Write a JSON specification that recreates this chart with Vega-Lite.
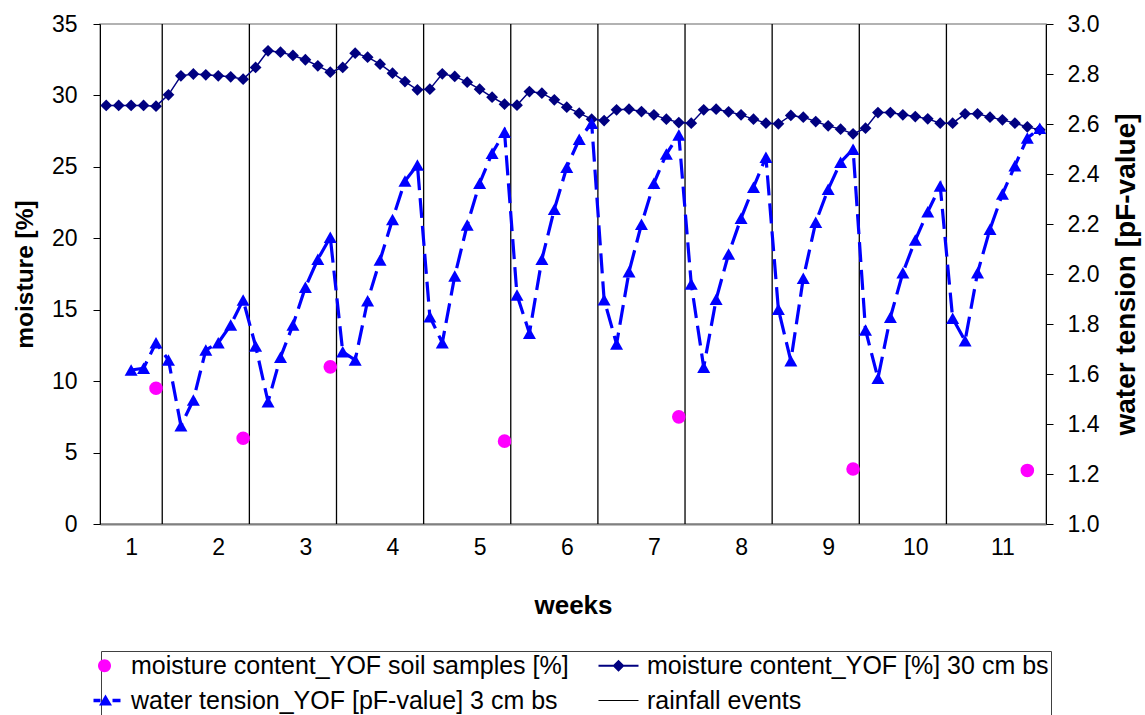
{
  "$schema": "https://vega.github.io/schema/vega-lite/v6.json",
  "width": 946,
  "height": 500,
  "autosize": {"type": "none"},
  "padding": {"left": 100, "top": 24, "right": 99, "bottom": 191},
  "background": "white",
  "config": {
    "font": "Liberation Sans",
    "view": {"stroke": "#999999", "strokeWidth": 1.5},
    "axis": {
      "labelFont": "Liberation Sans",
      "titleFont": "Liberation Sans",
      "labelColor": "black",
      "titleColor": "black",
      "grid": false,
      "labelFontSize": 23,
      "titleFontSize": 24.5,
      "titleFontWeight": "bold",
      "labelFlush": false,
      "labelOverlap": false
    }
  },
  "datasets": {
    "moisture": [
      {"day": 1, "m": 29.3}, {"day": 2, "m": 29.3}, {"day": 3, "m": 29.3}, {"day": 4, "m": 29.3},
      {"day": 5, "m": 29.25}, {"day": 6, "m": 30.04}, {"day": 7, "m": 31.37}, {"day": 8, "m": 31.5},
      {"day": 9, "m": 31.44}, {"day": 10, "m": 31.37}, {"day": 11, "m": 31.3}, {"day": 12, "m": 31.14},
      {"day": 13, "m": 31.96}, {"day": 14, "m": 33.12}, {"day": 15, "m": 33.03}, {"day": 16, "m": 32.8},
      {"day": 17, "m": 32.5}, {"day": 18, "m": 32.07}, {"day": 19, "m": 31.63}, {"day": 20, "m": 31.96},
      {"day": 21, "m": 32.96}, {"day": 22, "m": 32.68}, {"day": 23, "m": 32.19}, {"day": 24, "m": 31.56},
      {"day": 25, "m": 30.97}, {"day": 26, "m": 30.39}, {"day": 27, "m": 30.44}, {"day": 28, "m": 31.51},
      {"day": 29, "m": 31.33}, {"day": 30, "m": 30.93}, {"day": 31, "m": 30.44}, {"day": 32, "m": 29.88},
      {"day": 33, "m": 29.39}, {"day": 34, "m": 29.32}, {"day": 35, "m": 30.27}, {"day": 36, "m": 30.16},
      {"day": 37, "m": 29.69}, {"day": 38, "m": 29.18}, {"day": 39, "m": 28.76}, {"day": 40, "m": 28.34},
      {"day": 41, "m": 28.24}, {"day": 42, "m": 28.99}, {"day": 43, "m": 29.04}, {"day": 44, "m": 28.87},
      {"day": 45, "m": 28.64}, {"day": 46, "m": 28.34}, {"day": 47, "m": 28.1}, {"day": 48, "m": 28.06},
      {"day": 49, "m": 28.99}, {"day": 50, "m": 29.04}, {"day": 51, "m": 28.85}, {"day": 52, "m": 28.64},
      {"day": 53, "m": 28.34}, {"day": 54, "m": 28.06}, {"day": 55, "m": 28.01}, {"day": 56, "m": 28.6},
      {"day": 57, "m": 28.48}, {"day": 58, "m": 28.17}, {"day": 59, "m": 27.87}, {"day": 60, "m": 27.64},
      {"day": 61, "m": 27.31}, {"day": 62, "m": 27.71}, {"day": 63, "m": 28.8}, {"day": 64, "m": 28.8},
      {"day": 65, "m": 28.64}, {"day": 66, "m": 28.52}, {"day": 67, "m": 28.36}, {"day": 68, "m": 28.06},
      {"day": 69, "m": 28.06}, {"day": 70, "m": 28.71}, {"day": 71, "m": 28.71}, {"day": 72, "m": 28.48},
      {"day": 73, "m": 28.29}, {"day": 74, "m": 28.06}, {"day": 75, "m": 27.8}, {"day": 76, "m": 27.59}
    ],
    "tension": [
      {"day": 3, "pf": 1.616}, {"day": 4, "pf": 1.623}, {"day": 5, "pf": 1.725}, {"day": 6, "pf": 1.656},
      {"day": 7, "pf": 1.393}, {"day": 8, "pf": 1.496}, {"day": 9, "pf": 1.696}, {"day": 10, "pf": 1.725},
      {"day": 11, "pf": 1.796}, {"day": 12, "pf": 1.896}, {"day": 13, "pf": 1.712}, {"day": 14, "pf": 1.489},
      {"day": 15, "pf": 1.667}, {"day": 16, "pf": 1.796}, {"day": 17, "pf": 1.947}, {"day": 18, "pf": 2.059},
      {"day": 19, "pf": 2.147}, {"day": 20, "pf": 1.689}, {"day": 21, "pf": 1.656}, {"day": 22, "pf": 1.893},
      {"day": 23, "pf": 2.056}, {"day": 24, "pf": 2.218}, {"day": 25, "pf": 2.372}, {"day": 26, "pf": 2.436},
      {"day": 27, "pf": 1.829}, {"day": 28, "pf": 1.725}, {"day": 29, "pf": 1.992}, {"day": 30, "pf": 2.196},
      {"day": 31, "pf": 2.363}, {"day": 32, "pf": 2.483}, {"day": 33, "pf": 2.567}, {"day": 34, "pf": 1.916},
      {"day": 35, "pf": 1.763}, {"day": 36, "pf": 2.059}, {"day": 37, "pf": 2.259}, {"day": 38, "pf": 2.427},
      {"day": 39, "pf": 2.539}, {"day": 40, "pf": 2.603}, {"day": 41, "pf": 1.897}, {"day": 42, "pf": 1.72},
      {"day": 43, "pf": 2.009}, {"day": 44, "pf": 2.199}, {"day": 45, "pf": 2.363}, {"day": 46, "pf": 2.48},
      {"day": 47, "pf": 2.556}, {"day": 48, "pf": 1.96}, {"day": 49, "pf": 1.627}, {"day": 50, "pf": 1.899},
      {"day": 51, "pf": 2.08}, {"day": 52, "pf": 2.223}, {"day": 53, "pf": 2.347}, {"day": 54, "pf": 2.467},
      {"day": 55, "pf": 1.859}, {"day": 56, "pf": 1.653}, {"day": 57, "pf": 1.983}, {"day": 58, "pf": 2.207},
      {"day": 59, "pf": 2.339}, {"day": 60, "pf": 2.447}, {"day": 61, "pf": 2.499}, {"day": 62, "pf": 1.776},
      {"day": 63, "pf": 1.583}, {"day": 64, "pf": 1.827}, {"day": 65, "pf": 2.005}, {"day": 66, "pf": 2.136},
      {"day": 67, "pf": 2.249}, {"day": 68, "pf": 2.352}, {"day": 69, "pf": 1.823}, {"day": 70, "pf": 1.733},
      {"day": 71, "pf": 2.005}, {"day": 72, "pf": 2.179}, {"day": 73, "pf": 2.32}, {"day": 74, "pf": 2.433},
      {"day": 75, "pf": 2.544}, {"day": 76, "pf": 2.583}
    ],
    "soil": [
      {"day": 5, "m": 9.5}, {"day": 12, "m": 6.0}, {"day": 19, "m": 11.0}, {"day": 33, "m": 5.8},
      {"day": 47, "m": 7.5}, {"day": 61, "m": 3.85}, {"day": 75, "m": 3.75}
    ],
    "rain": [
      {"day": 5.5}, {"day": 12.5}, {"day": 19.5}, {"day": 26.5}, {"day": 33.5},
      {"day": 40.5}, {"day": 47.5}, {"day": 54.5}, {"day": 61.5}, {"day": 68.5}
    ],
    "legend": [
      {"s": "moisture content_YOF soil samples [%]"},
      {"s": "moisture content_YOF [%] 30 cm bs"},
      {"s": "water tension_YOF [pF-value] 3 cm bs"},
      {"s": "rainfall events"}
    ]
  },
  "encoding": {
    "x": {
      "field": "day",
      "type": "quantitative",
      "scale": {"domain": [0.5, 76.5], "nice": false, "zero": false},
      "axis": {
        "title": "weeks",
        "titleFontSize": 26,
        "values": [3, 10, 17, 24, 31, 38, 45, 52, 59, 66, 73],
        "labelExpr": "format((datum.value - 3) / 7 + 1, 'd')",
        "ticks": false,
        "tickSize": 0,
        "domainColor": "#808080",
        "domainWidth": 2,
        "labelPadding": 12,
        "titlePadding": 33
      }
    }
  },
  "layer": [
    {
      "data": {"name": "rain"},
      "mark": {"type": "rule", "color": "black", "strokeWidth": 1.3},
      "encoding": {}
    },
    {
      "data": {"name": "soil"},
      "mark": {"type": "point", "shape": "circle", "filled": true, "color": "#FF00FF", "size": 185, "opacity": 1},
      "encoding": {
        "y": {"field": "m", "type": "quantitative", "scale": {"domain": [0, 35], "nice": false, "zero": true}, "axis": null}
      }
    },
    {
      "data": {"name": "moisture"},
      "mark": {
        "type": "line",
        "color": "#000080",
        "strokeWidth": 1.5,
        "point": {"shape": "diamond", "size": 140, "filled": true, "color": "#000080", "opacity": 1}
      },
      "encoding": {
        "y": {
          "field": "m",
          "type": "quantitative",
          "scale": {"domain": [0, 35], "nice": false, "zero": true},
          "axis": {
            "orient": "left",
            "title": "moisture [%]",
            "values": [0, 5, 10, 15, 20, 25, 30, 35],
            "tickSize": 7,
            "tickColor": "black",
            "domainColor": "black",
            "labelPadding": 16,
            "titlePadding": 14
          }
        }
      }
    },
    {
      "data": {"name": "tension"},
      "mark": {
        "type": "line",
        "color": "#0000FF",
        "strokeWidth": 3.2,
        "strokeDash": [20, 8],
        "point": {"shape": "triangle-up", "size": 169, "filled": true, "color": "#0000FF", "opacity": 1}
      },
      "encoding": {
        "y": {
          "field": "pf",
          "type": "quantitative",
          "scale": {"domain": [1, 3], "nice": false, "zero": false},
          "axis": {
            "orient": "right",
            "title": "water tension [pF-value]",
            "titleFontSize": 28,
            "values": [1, 1.2, 1.4, 1.6, 1.8, 2, 2.2, 2.4, 2.6, 2.8, 3],
            "format": ".1f",
            "tickSize": 7,
            "tickColor": "black",
            "domainColor": "black",
            "labelPadding": 14,
            "titlePadding": 14,
            "titleAngle": 270,
            "titleBaseline": "top"
          }
        }
      }
    },
    {
      "data": {"name": "legend"},
      "transform": [{"filter": "false"}],
      "mark": {"type": "point", "filled": true, "opacity": 1},
      "encoding": {
        "color": {
          "field": "s",
          "type": "nominal",
          "scale": {
            "domain": ["moisture content_YOF soil samples [%]", "water tension_YOF [pF-value] 3 cm bs", "moisture content_YOF [%] 30 cm bs", "rainfall events"],
            "range": ["#FF00FF", "#0000FF", "#000080", "#000000"]
          },
          "legend": {
            "orient": "none",
            "legendX": 1,
            "legendY": 627,
            "columns": 2,
            "gridAlign": "all",
            "title": null,
            "labelFont": "Liberation Sans",
            "labelFontSize": 25,
            "labelColor": "black",
            "labelOffset": 3,
            "labelLimit": 1000,
            "symbolSize": 400,
            "symbolStrokeWidth": 0,
            "symbolOpacity": 1,
            "columnPadding": 29,
            "rowPadding": 9,
            "padding": 2,
            "strokeColor": "#404040",
            "fillColor": "white"
          }
        },
        "shape": {
          "field": "s",
          "type": "nominal",
          "scale": {
            "domain": ["moisture content_YOF soil samples [%]", "water tension_YOF [pF-value] 3 cm bs", "moisture content_YOF [%] 30 cm bs", "rainfall events"],
            "range": [
              "M-1.75,0A0.65,0.65,0,1,1,-0.45,0A0.65,0.65,0,1,1,-1.75,0Z",
              "M-2.2,-0.17H-1.5V0.17H-2.2ZM-0.3,-0.17H0.5V0.17H-0.3ZM-1.0,-0.6L-0.35,0.5L-1.65,0.5Z",
              "M-3.3,-0.1H0.7V0.1H-3.3ZM-1.3,-0.6L-0.7,0L-1.3,0.6L-1.9,0Z",
              "M-3.3,-0.06H0.7V0.06H-3.3Z"
            ]
          }
        }
      }
    }
  ],
  "resolve": {"scale": {"y": "independent"}}
}
